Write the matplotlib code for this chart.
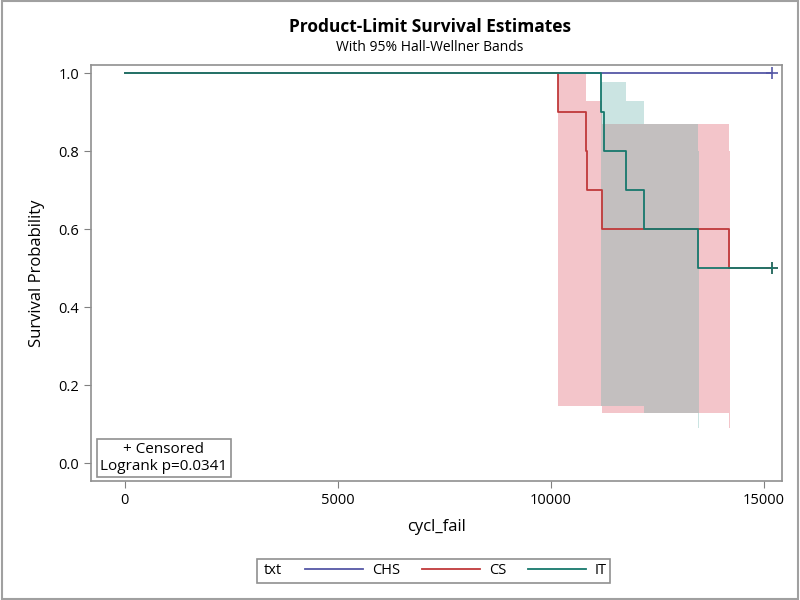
import matplotlib.pyplot as plt
import numpy as np
from matplotlib.lines import Line2D
from matplotlib.patches import Rectangle

plt.rcParams['font.family'] = ['Open Sans', 'DejaVu Sans']

# Kaplan-Meier step curves (time, survival)
chs_t = [0, 15190]
chs_s = [1.0, 1.0]
cs_t = [0, 10175, 10815, 10855, 11205, 14175, 15190]
cs_s = [1.0, 0.9, 0.8, 0.7, 0.6, 0.5, 0.5]
it_t = [0, 11165, 11255, 11770, 12185, 13440, 15190]
it_s = [1.0, 0.9, 0.8, 0.7, 0.6, 0.5, 0.5]
censor_t = [15190, 15190, 15190]
censor_s = [1.0, 0.5, 0.5]

# Hall-Wellner band steps
cs_band_t = [10175, 10815, 11205, 14175, 14200]
cs_band_lo = [0.146, 0.146, 0.129, 0.09, 0.09]
cs_band_hi = [1.0, 0.929, 0.868, 0.80, 0.80]
it_band_t = [11165, 11770, 12185, 13440, 13465]
it_band_lo = [0.146, 0.146, 0.129, 0.09, 0.09]
it_band_hi = [0.976, 0.929, 0.868, 0.80, 0.80]

groups = ['CHS', 'CS', 'IT']
line_cols = ['#5557A6', '#C0393A', '#17786C']
fill_cols = ['#6F7EB3', '#E05F6E', '#6BB4AC']

fig = plt.figure(figsize=(8, 6), dpi=100)
fig.patches.append(Rectangle((0.002, 0.002), 0.996, 0.996, transform=fig.transFigure,
                             fill=False, edgecolor='#a0a0a0', lw=1.5))
ax = fig.add_axes([0.11375, 0.19833, 0.86375, 0.69333])

ax.fill_between(cs_band_t, cs_band_lo, cs_band_hi, step='post',
                color=fill_cols[1], alpha=0.36, lw=0)
ax.fill_between(it_band_t, it_band_lo, it_band_hi, step='post',
                color=fill_cols[2], alpha=0.35, lw=0)

ax.step(chs_t, chs_s, where='post', color=line_cols[0], lw=1.3)
ax.step(cs_t, cs_s, where='post', color=line_cols[1], lw=1.3)
ax.step(it_t, it_s, where='post', color=line_cols[2], lw=1.3)
for t, s, c in zip(censor_t, censor_s, line_cols):
    ax.plot(t, s, marker='+', ms=9, mew=1.2, color=c, ls='none')

ax.set_xlim(-786, 15420)
ax.set_ylim(-0.046, 1.0205)
ax.set_xticks([0, 5000, 10000, 15000])
ax.set_yticks(np.arange(0, 1.01, 0.2))
ax.set_yticklabels(['%.1f' % v for v in np.arange(0, 1.01, 0.2)])
ax.tick_params(colors='#808080', labelcolor='black', labelsize=10.5, length=5)
for sp in ax.spines.values():
    sp.set_color('#909090')
    sp.set_linewidth(1.2)

ax.set_xlabel('cycl_fail', fontsize=12, labelpad=8)
ax.set_ylabel('Survival Probability', fontsize=12, labelpad=10)

fig.text(0.5375, 0.955, 'Product-Limit Survival Estimates', ha='center', va='center',
         fontsize=12.5, fontweight='bold')
fig.text(0.5375, 0.921, 'With 95% Hall-Wellner Bands', ha='center', va='center',
         fontsize=10)

ax.text(0.0135, 0.018, '+ Censored\nLogrank p=0.0341', transform=ax.transAxes,
        ha='left', va='bottom', fontsize=11, multialignment='center', linespacing=1.15,
        bbox=dict(boxstyle='square,pad=0.2', fc='white', ec='#909090', lw=1.2))

# legend: title "txt" to the left of entries, inside one frame
fig.patches.append(Rectangle((257 / 800, 1 - 583 / 600), 353 / 800, 24 / 600,
                             transform=fig.transFigure, fill=False,
                             edgecolor='#909090', lw=1.2))
fig.text(264 / 800, 1 - 571 / 600, 'txt', ha='left', va='center', fontsize=10.5)
handles = [Line2D([], [], color=c, lw=1.3) for c in line_cols]
fig.legend(handles, groups, loc='center right', bbox_to_anchor=(607 / 800, 1 - 571 / 600),
           ncol=3, fontsize=10.5, frameon=False, handlelength=4.0,
           columnspacing=1.5, handletextpad=0.6, borderpad=0.0, borderaxespad=0.0)

fig.savefig('out.png', dpi=100)
